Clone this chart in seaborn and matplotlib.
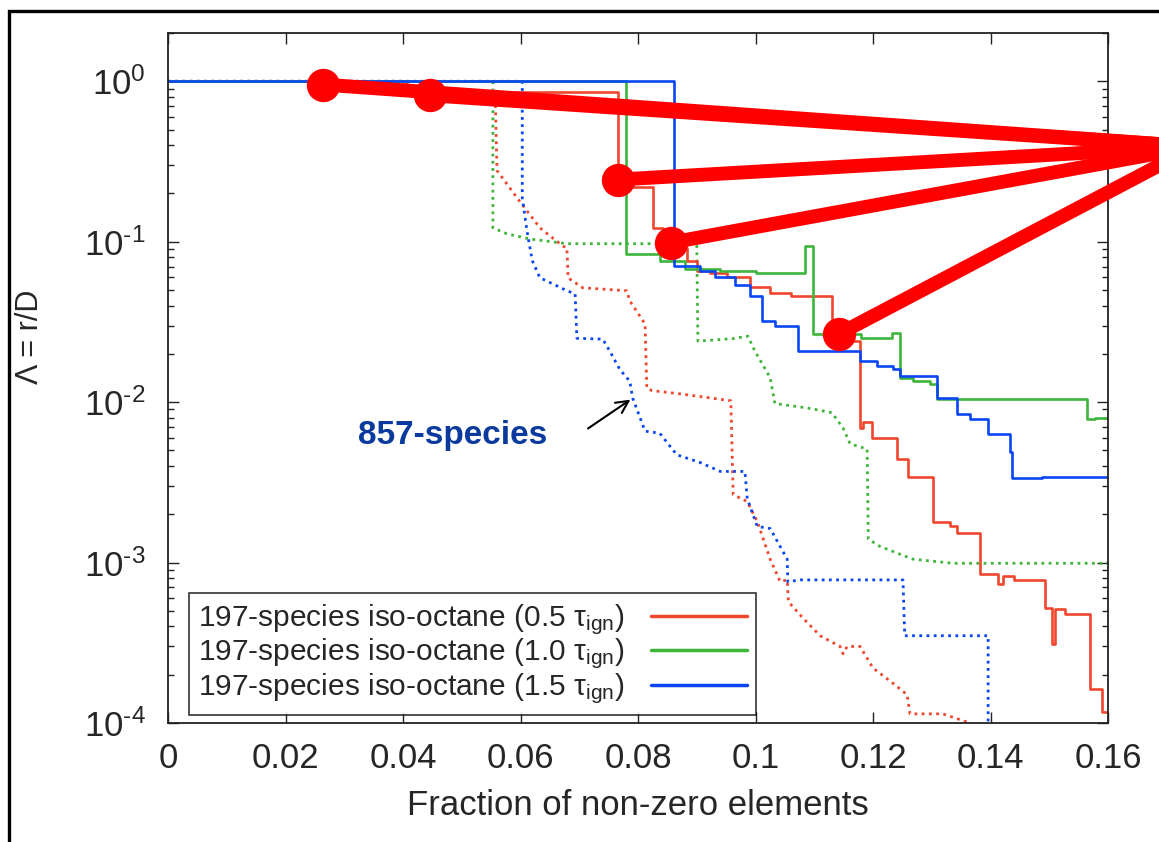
import numpy as np
import pandas as pd
import matplotlib
matplotlib.use("Agg")
import matplotlib.pyplot as plt
from matplotlib.patches import Rectangle
from matplotlib.ticker import LogLocator, FixedLocator, NullFormatter, FuncFormatter
import seaborn as sns

# ---------------- data ----------------
x_ticks = [0, 0.02, 0.04, 0.06, 0.08, 0.10, 0.12, 0.14, 0.16]
x_tick_labels = ["0", "0.02", "0.04", "0.06", "0.08", "0.1", "0.12", "0.14", "0.16"]

# 197-species (solid, step curves)
red_solid_x = [0, 0.040, 0.0766, 0.0791, 0.0826, 0.0843, 0.0860, 0.0883, 0.0900, 0.0923,
               0.0951, 0.0991, 0.1025, 0.1060, 0.1130, 0.1150, 0.1178, 0.1183, 0.1198, 0.1241,
               0.1260, 0.1302, 0.1331, 0.1343, 0.1382, 0.1413, 0.1421, 0.1440, 0.1493, 0.1505,
               0.1509, 0.1527, 0.1569, 0.1590, 0.1600]
red_solid_y = [1.0, 0.86, 0.24, 0.22, 0.122, 0.117, 0.092, 0.076, 0.066, 0.064,
               0.060, 0.052, 0.048, 0.046, 0.026, 0.024, 0.0069, 0.0075, 0.0060, 0.0044,
               0.0034, 0.0018, 0.0017, 0.00152, 0.00085, 0.00074, 0.00082, 0.00078, 0.00052, 0.00031,
               0.00051, 0.00048, 0.000163, 0.000117, 0.000117]

green_solid_x = [0, 0.0780, 0.0837, 0.0880, 0.0940, 0.1000, 0.1084, 0.1098, 0.1180, 0.1232,
                 0.1246, 0.1268, 0.1297, 0.1309, 0.1564, 0.1578, 0.1600]
green_solid_y = [1.0, 0.084, 0.076, 0.068, 0.066, 0.064, 0.094, 0.0266, 0.0252, 0.027,
                 0.0142, 0.0136, 0.013, 0.0104, 0.0078, 0.0080, 0.0080]

blue_solid_x = [0, 0.0861, 0.0906, 0.0931, 0.0965, 0.0991, 0.1011, 0.1033, 0.1072, 0.1178,
                0.1207, 0.1234, 0.1246, 0.1309, 0.1343, 0.1365, 0.1396, 0.1433, 0.1437, 0.1488,
                0.1600]
blue_solid_y = [1.0, 0.0708, 0.066, 0.060, 0.054, 0.046, 0.032, 0.030, 0.0208, 0.018,
                0.0168, 0.0161, 0.0145, 0.0106, 0.0084, 0.0079, 0.0063, 0.0049, 0.00335, 0.0034,
                0.0034]

# 857-species (dotted)
red_dot_x = [0, 0.040, 0.044, 0.0557, 0.0560, 0.0594, 0.0633, 0.0672, 0.0679,
             0.0681, 0.0706, 0.0781, 0.0786, 0.0812, 0.0815, 0.0824, 0.0877, 0.0958, 0.0962,
             0.0986, 0.1003, 0.1025, 0.1042, 0.1054, 0.1056, 0.1081, 0.1110, 0.1144, 0.1149,
             0.1156, 0.1178, 0.1200, 0.1234, 0.1258, 0.1263, 0.1319, 0.1365, 0.1400]
red_dot_y = [1.0, 1.0, 0.80, 0.79, 0.278, 0.188, 0.122, 0.094, 0.0917,
             0.0595, 0.0516, 0.0495, 0.0428, 0.0307, 0.0122, 0.0118, 0.0112, 0.0102, 0.00265,
             0.0024, 0.0018, 0.00105, 0.00076, 0.00078, 0.00057, 0.00045, 0.00035, 0.00030, 0.00027,
             0.00030, 0.00030, 0.00022, 0.000177, 0.00015, 0.000114, 0.000114, 0.00010, 0.000085]

green_dot_x = [0, 0.0553, 0.0553, 0.0577, 0.0616, 0.0679, 0.0900, 0.0902, 0.0962, 0.0987,
               0.0999, 0.1025, 0.1033, 0.1088, 0.1130, 0.1149, 0.1161, 0.1190, 0.1192, 0.1212,
               0.1268, 0.1336, 0.1600]
green_dot_y = [1.0, 1.0, 0.122, 0.112, 0.104, 0.0972, 0.0972, 0.024, 0.0249, 0.0258,
               0.0208, 0.0142, 0.0098, 0.0092, 0.0086, 0.0069, 0.0055, 0.0051, 0.0014, 0.00126,
               0.00105, 0.00099, 0.00099]

blue_dot_x = [0, 0.0603, 0.0603, 0.0611, 0.0620, 0.0633, 0.0655, 0.0679, 0.0693, 0.0696,
              0.0740, 0.0752, 0.0769, 0.0786, 0.0791, 0.0812, 0.0837, 0.0866, 0.0906, 0.0940,
              0.0982, 0.0986, 0.1003, 0.1025, 0.1054, 0.1055, 0.1076, 0.1251, 0.1254, 0.1396,
              0.1396]
blue_dot_y = [1.0, 1.0, 0.188, 0.117, 0.0763, 0.0596, 0.0546, 0.0495, 0.0473, 0.025,
              0.0247, 0.0208, 0.016, 0.0135, 0.0106, 0.0066, 0.0064, 0.0047, 0.0042, 0.0037,
              0.0037, 0.0025, 0.00168, 0.00163, 0.00105, 0.00076, 0.00078, 0.00078, 0.00035, 0.00035,
              0.00009]

series_labels = [r"197-species iso-octane (0.5 $\mathregular{\tau_{ign}}$)",
                 r"197-species iso-octane (1.0 $\mathregular{\tau_{ign}}$)",
                 r"197-species iso-octane (1.5 $\mathregular{\tau_{ign}}$)"]

# red call-out markers and their common target point
callout_x = [0.0264, 0.0446, 0.0766, 0.0856, 0.1142]
callout_y = [0.954, 0.818, 0.244, 0.0987, 0.0266]
callout_target = (0.1748, 0.392)

annot_text = "857-species"

# ---------------- style ----------------
sns.set_style("ticks")
plt.rcParams["font.family"] = ["Liberation Sans", "DejaVu Sans"]
plt.rcParams["mathtext.fontset"] = "custom"
plt.rcParams["mathtext.rm"] = "Liberation Sans"
plt.rcParams["mathtext.it"] = "Liberation Sans:italic"
plt.rcParams["mathtext.default"] = "regular"
plt.rcParams["axes.unicode_minus"] = False

RED = "#f0462d"
GREEN = "#3db53a"
BLUE = "#0a46f5"

fig = plt.figure(figsize=(11.59, 8.42), dpi=100)
ax = fig.add_axes([168 / 1159, (842 - 723) / 842, 940 / 1159, 690 / 842])

solid_lw = 1.9
dot_lw = 2.0
for xs, ys, c in [(red_dot_x, red_dot_y, RED), (green_dot_x, green_dot_y, GREEN),
                  (blue_dot_x, blue_dot_y, BLUE)]:
    sns.lineplot(x=xs, y=ys, ax=ax, color=c, lw=dot_lw, estimator=None, sort=False,
                 linestyle=(0, (1, 1.6)), legend=False)

solid_handles = []
for xs, ys, c, lab in [(red_solid_x, red_solid_y, RED, series_labels[0]),
                       (green_solid_x, green_solid_y, GREEN, series_labels[1]),
                       (blue_solid_x, blue_solid_y, BLUE, series_labels[2])]:
    sns.lineplot(x=xs, y=ys, ax=ax, color=c, lw=solid_lw, estimator=None, sort=False,
                 drawstyle="steps-post", legend=False)
    ln = ax.lines[-1]
    ln.set_label(lab)
    solid_handles.append(ln)

ax.set_yscale("log")
ax.set_xlim(0, 0.16)
ax.set_ylim(1e-4, 2.0)


def pow10(v, pos):
    e = int(round(np.log10(v)))
    if e < 0:
        return r"$10^{\text{-}%d}$" % (-e)
    return r"$10^{%d}$" % e


# ticks gnuplot-like (inward, mirrored)
ax.xaxis.set_major_locator(FixedLocator(x_ticks))
ax.set_xticklabels(x_tick_labels)
ax.yaxis.set_major_locator(LogLocator(base=10, numticks=10))
ax.yaxis.set_major_formatter(FuncFormatter(pow10))
ax.yaxis.set_minor_locator(LogLocator(base=10, subs=np.arange(2, 10), numticks=20))
ax.yaxis.set_minor_formatter(NullFormatter())
ax.tick_params(axis="both", which="major", direction="in", top=True, right=True,
               length=8, width=1.0, labelsize=25, color="#222222")
ax.tick_params(axis="y", which="minor", direction="in", left=True, right=True,
               length=4.5, width=1.0, color="#222222")
ax.tick_params(axis="x", which="major", pad=14)
ax.tick_params(axis="y", which="major", pad=16)
ax.xaxis.set_tick_params(which="minor", bottom=False, top=False)
for sp in ax.spines.values():
    sp.set_linewidth(1.3)
    sp.set_color("#222222")

ax.set_xlabel("Fraction of non-zero elements", fontsize=25, labelpad=10)
ax.set_ylabel("Λ = r/D", fontsize=22)
ax.yaxis.set_label_coords(-0.131, 0.559)

leg = ax.legend(handles=solid_handles, loc="lower left", bbox_to_anchor=(0.0223, 0.0116),
                borderaxespad=0, fontsize=21.5, markerfirst=False, frameon=True,
                fancybox=False, edgecolor="black", handlelength=3.2, labelspacing=0.0,
                borderpad=0.3, handletextpad=0.9)
leg.get_frame().set_linewidth(1.2)
for h in leg.get_lines():
    h.set_linewidth(2.5)

# annotation
ax.text(0.0485, 0.0062, annot_text, fontsize=24, fontweight="bold", color="#0b3a9e",
        family=["Liberation Sans", "DejaVu Sans"], ha="center", va="center")
ax.annotate("", xy=(0.0791, 0.0106), xytext=(0.0711, 0.0067),
            arrowprops=dict(arrowstyle="->", color="black", lw=1.5, mutation_scale=22))

# red call-outs
for cx, cy in zip(callout_x, callout_y):
    ax.plot([cx, callout_target[0]], [cy, callout_target[1]], color="red", lw=10,
            solid_capstyle="round", clip_on=False, zorder=10)
ax.plot(callout_x, callout_y, "o", color="red", ms=23, clip_on=False, zorder=11)

# outer frame of the figure
fig.patches.append(Rectangle((9 / 1159, -0.1), 1.2, 0.1 + (842 - 11) / 842, fill=False,
                             lw=2.4, edgecolor="black", transform=fig.transFigure))

fig.savefig("out.png", dpi=100)
